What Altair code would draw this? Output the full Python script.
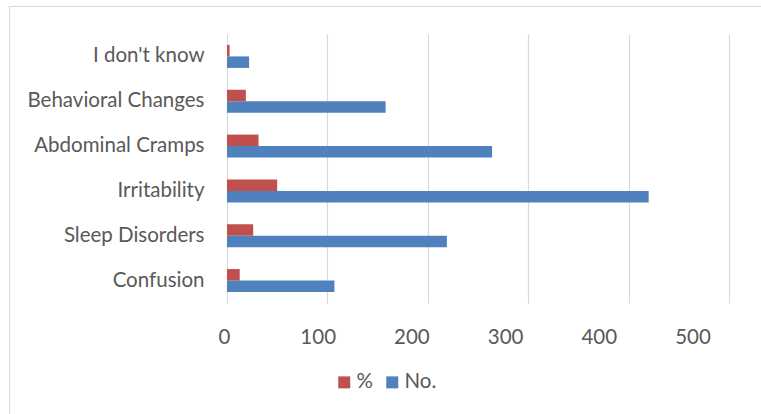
import altair as alt
import pandas as pd

# Symptom categories, listed top to bottom
categories = ["I don't know", "Behavioral Changes", "Abdominal Cramps",
              "Irritability", "Sleep Disorders", "Confusion"]
counts = [22, 158, 264, 420, 219, 107]          # No.
percents = [2.6, 18.8, 31.4, 50.0, 26.1, 12.7]  # %
series_names = ["%", "No."]
series_colors = ["#C0504D", "#4F81BD"]
x_ticks = [0, 100, 200, 300, 400, 500]

rows = []
for cat, pct, n in zip(categories, percents, counts):
    rows.append({"category": cat, "series": "%", "value": pct})
    rows.append({"category": cat, "series": "No.", "value": n})
df = pd.DataFrame(rows)

FONT = "Lato"
FSIZE = 20.5
TEXT = "#595959"
GRID = "#d9d9d9"

bars = alt.Chart(df).mark_bar().encode(
    y=alt.Y("category:N", sort=categories,
            scale=alt.Scale(paddingInner=0.487, paddingOuter=0.2435),
            axis=alt.Axis(title=None, ticks=False, domain=False, grid=False,
                          labelPadding=23, labelFontSize=FSIZE, labelFont=FONT,
                          labelColor=TEXT)),
    yOffset=alt.YOffset("series:N", sort=series_names,
                        scale=alt.Scale(paddingInner=0, paddingOuter=0)),
    x=alt.X("value:Q", scale=alt.Scale(domain=[0, 500], nice=False),
            axis=alt.Axis(title=None, values=x_ticks, labels=False, ticks=False,
                          domain=False, grid=True, gridColor=GRID, gridWidth=1.2)),
    color=alt.Color("series:N",
                    scale=alt.Scale(domain=series_names, range=series_colors),
                    legend=alt.Legend(title=None, orient="none", legendX=107,
                                      legendY=338, direction="horizontal",
                                      symbolType="square", symbolSize=144,
                                      symbolStrokeWidth=0, labelFontSize=FSIZE,
                                      labelFont=FONT, labelColor=TEXT,
                                      labelOffset=2, columnPadding=9)),
)

# Tick labels for the value axis
tick_df = pd.DataFrame({"tick": x_ticks})
tick_labels = alt.Chart(tick_df).mark_point(opacity=0).encode(
    x=alt.X("tick:Q", scale=alt.Scale(domain=[0, 500], nice=False, range=[-3, 465.5]),
            axis=alt.Axis(title=None, orient="bottom", values=x_ticks, grid=False,
                          ticks=False, domain=False, labelPadding=24,
                          labelFlush=False, labelFontSize=FSIZE, labelFont=FONT,
                          labelColor=TEXT)),
)

# Chart frame
frame_src = alt.Data(values=[{"k": 1}])
frame_left = alt.Chart(frame_src).mark_rule(color=GRID, strokeWidth=1).encode(
    x=alt.value(-217.5), y=alt.value(-27.5), y2=alt.value(420))
frame_top = alt.Chart(frame_src).mark_rule(color=GRID, strokeWidth=1).encode(
    x=alt.value(-217.5), x2=alt.value(540), y=alt.value(-27.5))

chart = alt.layer(frame_left, frame_top, bars, tick_labels).resolve_scale(
    x="independent"
).properties(
    width=502, height=269,
    autosize=alt.AutoSizeParams(type="none"),
    padding={"left": 227, "top": 34, "right": 32, "bottom": 111},
    background="white",
).configure_view(stroke=None)

chart.save("out.html", embed_options={"renderer": "svg", "actions": False})
